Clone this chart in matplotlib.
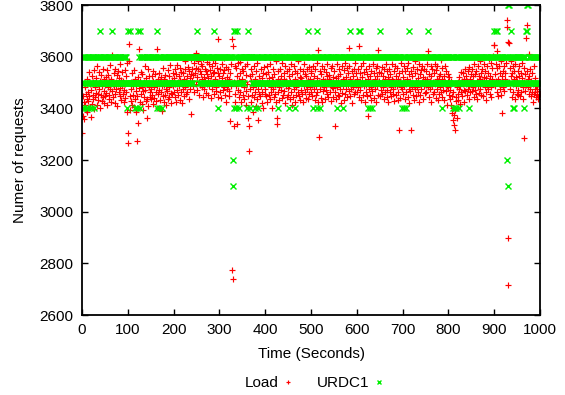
import matplotlib
matplotlib.use("Agg")
import matplotlib.pyplot as plt
import numpy as np

# Load: one value per second, value = 3000 + code (rows of 50 seconds)
load_codes = """
305 403 372 447 426 358 481 414 392 455 437 512 384 463 428 539 446 407 493 366 472 526 418 451 502 435 548 396 484 443 517 461 412 563 457 496 432 541 474 401 506 452 528 427 488 553 445 513 468 419
492 446 523 461 547 414 483 531 452 504 436 566 474 425 513 608 467 495 443 538 486 421 552 457 501 473 529 408 496 544 462 518 447 572 478 433 511 485 539 454 507 426 471 549 441 493 524 464 384 577
265 306 651 583 448 393 502 427 474 536 412 487 453 548 405 514 438 466 492 384 275 446 521 345 479 628 423 506 457 541 483 416 532 468 395 503 442 564 471 428 516 362 494 437 553 409 482 525 463 445
473 436 524 452 507 418 546 484 441 496 533 462 427 628 485 513 403 456 538 471 434 505 463 522 391 487 557 446 492 424 515 453 531 476 412 502 467 549 438 481 526 443 497 569 458 421 509 454 535 486
464 517 443 552 495 426 534 472 568 503 451 525 487 432 556 508 465 542 421 494 536 473 514 447 583 482 551 455 506 527 463 561 493 438 545 516 476 591 532 377 504 553 485 528 574 462 537 603 496 558
614 523 472 551 584 502 453 546 491 573 532 484 562 515 443 592 521 475 554 506 461 543 581 493 534 452 517 571 486 548 503 441 526 563 474 538 589 495 456 542 513 576 482 467 557 501 668 535 444 497
524 463 552 494 441 573 516 472 535 596 483 547 452 505 561 426 521 474 553 492 447 514 466 352 537 485 572 668 -225 -262 641 332 503 456 564 423 558 487 341 526 471 574 445 508 536 462 581 493 424 553
515 452 543 484 436 562 503 467 531 413 571 494 362 446 331 236 524 475 552 425 506 451 534 386 482 563 443 512 464 408 545 492 435 574 473 354 527 456 501 447 486 553 422 516 463 538 402 494 561 455
476 532 447 503 564 424 495 541 453 516 436 572 484 462 523 401 552 473 506 445 534 457 491 583 426 363 338 514 465 546 482 433 553 507 472 526 441 575 496 452 513 466 537 421 562 485 504 443 545 478
453 524 486 551 437 505 462 573 414 532 494 442 563 475 512 426 546 483 451 503 536 464 585 446 497 523 431 554 472 516 457 502 543 423 571 486 465 534 441 492 527 473 552 436 508 561 454 513 481 544
463 535 492 447 563 504 476 527 434 552 485 453 516 574 462 626 424 291 503 546 474 533 441 496 565 423 514 467 554 482 436 507 542 471 525 456 573 494 443 512 531 465 506 557 427 484 562 445 523 478
495 543 333 464 516 435 572 484 452 527 504 446 553 473 534 422 497 564 461 513 486 547 432 505 576 454 521 473 556 443 535 492 466 562 633 514 447 503 476 545 421 526 483 552 456 574 502 464 536 491
514 465 553 482 641 443 536 504 472 565 434 523 496 451 574 487 542 425 506 463 551 492 534 446 372 515 474 563 453 526 484 545 432 503 467 572 495 441 537 512 473 556 424 527 486 564 452 626 504 541
493 446 535 472 561 503 454 526 484 552 436 515 463 573 495 442 546 471 523 424 506 554 465 532 483 447 571 512 456 504 476 543 427 562 492 525 451 486 557 433 514 462 536 316 505 441 574 483 545 474
523 454 502 564 486 435 543 494 462 556 512 443 575 476 534 421 505 467 546 316 484 527 453 561 492 433 535 474 582 506 446 553 481 516 463 572 425 534 495 452 547 473 503 562 436 521 485 554 461 513
492 545 463 514 573 621 484 443 532 506 475 563 426 524 487 552 454 503 536 462 571 495 441 547 513 474 562 434 505 527 456 533 482 586 464 512 445 556 493 471 525 432 564 501 466 543 486 414 534 507
484 453 521 437 472 505 414 382 446 463 403 353 374 336 316 392 445 427 483 362 456 502 434 476 523 418 485 542 464 507 447 493 536 472 425 514 553 466 495 527 452 504 473 546 438 486 561 513 465 534
503 466 552 484 526 443 571 495 533 472 456 545 504 436 563 487 524 461 584 513 474 536 452 507 554 493 446 573 521 482 543 465 516 434 562 491 535 476 592 505 454 527 483 575 445 512 556 604 496 645
646 534 486 573 504 621 463 556 515 447 562 494 536 473 583 452 524 506 382 545 484 563 466 514 537 493 575 742 716 -102 -285 655 503 652 557 474 526 584 443 536 495 564 462 513 546 436 572 485 523 454
504 453 545 472 526 563 446 494 537 465 516 574 483 435 285 556 503 467 534 492 672 546 722 484 513 612 455 527 473 553 447 506 462 538 424 495 564 456 517 475 463 445 486 452 474 437 493 448 466 457
"""

# URDC1: one digit per second, digit d -> 3000 + 100*d
urdc_codes = """
4564656546 5656456565 4656564565 6565655657 6565565656
5656565656 5656575656 5565656565 6565655656 5656565645
7555755555 5555554555 5457654765 6565656565 5656565656
6565656565 6564756546 5656456565 6565656565 5656565656
5656565656 6565656565 5656565656 6565656565 5656666666
6766665656 5656565656 6565656565 5656565676 5656565465
6565656565 5656565656 6565656562 1746756475 6564565656
5656566666 4676664666 6565656545 6565456565 6565656565
5656565656 6565656565 5656565646 5656565656 6565656565
5654656565 6565456565 6565656565 5656565656 5657565656
5656546565 6546756564 5656565656 6565656565 5656565656
5656564565 6565656564 5656565656 5656567656 5656565656
5656756576 5656565656 5656456564 5656456565 6565656565
7656565656 5656565656 6565656565 5656565656 5656565645
6564656545 6565675656 5656565656 6565656565 5656565656
6665657656 5656565656 6565656565 5656565465 6565656565
5656565656 4655456456 5656456565 6565656565 5656564565
6565656565 5656565656 6565656565 5656565656 6565656565
7657565765 6565656565 5656565621 6858565765 6546465656
5656565656 5656564565 7878565656 5656565656 5656565656
"""

load_vals = np.array([3000 + int(c) for c in load_codes.split()], dtype=float)
urdc_vals = np.array([3000 + 100 * int(d) for d in "".join(urdc_codes.split())], dtype=float)
t_load = np.arange(len(load_vals))
t_urdc = np.arange(len(urdc_vals))

x_ticks = list(range(0, 1001, 100))
y_ticks = list(range(2600, 3801, 200))

plt.rcParams['font.family'] = ['Liberation Sans', 'DejaVu Sans']

fig = plt.figure(figsize=(5.65, 3.95), dpi=100)
ax = fig.add_axes([0.1451, 0.2025, 0.8107, 0.7848])

ax.plot(t_load, load_vals, linestyle='none', marker='+', color='#ff0000',
        markersize=3.8, markeredgewidth=0.85, label='Load')
ax.plot(t_urdc, urdc_vals, linestyle='none', marker='x', color='#00f000',
        markersize=4.0, markeredgewidth=1.0, label='URDC1')

ax.set_xlim(0, 1000)
ax.set_ylim(2600, 3800)
ax.set_xticks(x_ticks)
ax.set_yticks(y_ticks)
ax.tick_params(direction='in', length=4, width=1.0, top=True, right=True,
               labelsize=11, pad=6, colors='black')
for s in ax.spines.values():
    s.set_linewidth(1.3)

ax.set_xlabel('Time (Seconds)', fontsize=11, labelpad=7)
ax.set_ylabel('Numer of requests', fontsize=11, labelpad=9)

fig.legend(loc='center', bbox_to_anchor=(0.556, 0.030), ncol=2, frameon=False,
           markerfirst=False, fontsize=11, handlelength=0.6, handletextpad=0.3,
           columnspacing=1.6, markerscale=0.8)

fig.savefig('out.png', dpi=100)
